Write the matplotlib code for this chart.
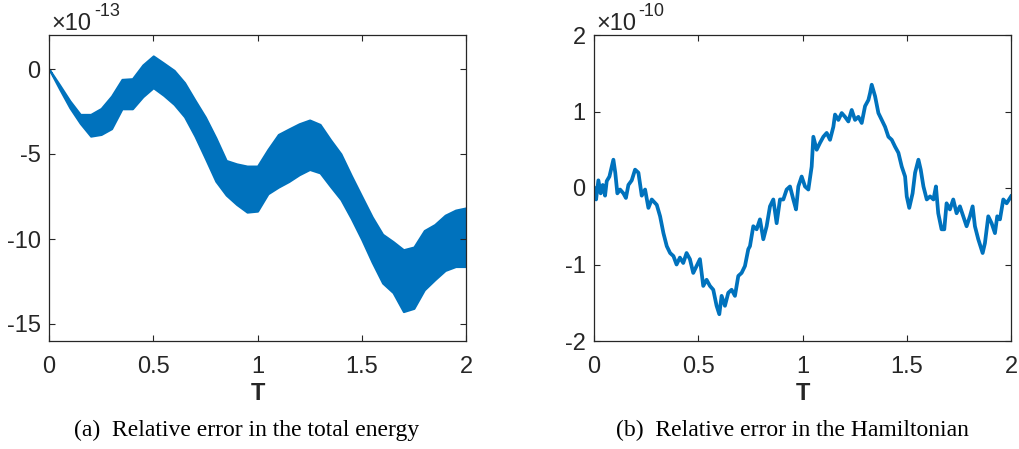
import numpy as np
import matplotlib
matplotlib.use("Agg")
import matplotlib.pyplot as plt

# (a) total energy error, units of 1e-13: the curve is a dense band, kept as its envelope
t_energy = [0.0, 0.05, 0.1, 0.15, 0.2, 0.25, 0.3, 0.35, 0.4, 0.45, 0.5, 0.55, 0.6, 0.65,
            0.7, 0.75, 0.8, 0.85, 0.9, 0.95, 1.0, 1.05, 1.1, 1.15, 1.2, 1.25, 1.3, 1.35,
            1.4, 1.45, 1.5, 1.55, 1.6, 1.65, 1.7, 1.75, 1.8, 1.85, 1.9, 1.95, 2.0]
energy_upper = [0.0, -0.92, -1.87, -2.67, -2.67, -2.32, -1.59, -0.61, -0.57, 0.24, 0.77,
                0.35, -0.08, -0.8, -1.83, -2.83, -4.04, -5.38, -5.58, -5.71, -5.71, -4.73,
                -3.85, -3.53, -3.22, -3.0, -3.26, -4.16, -4.99, -6.27, -7.49, -8.7, -9.72,
                -10.15, -10.63, -10.47, -9.5, -9.15, -8.6, -8.3, -8.17]
energy_lower = [0.0, -1.16, -2.28, -3.2, -3.95, -3.85, -3.51, -2.34, -2.34, -1.63, -1.1,
                -1.55, -2.08, -2.81, -3.95, -5.26, -6.6, -7.42, -7.97, -8.42, -8.36, -7.34,
                -6.95, -6.62, -6.22, -5.91, -6.11, -6.91, -7.68, -8.8, -10.03, -11.37, -12.59,
                -13.15, -14.27, -14.08, -12.99, -12.4, -11.85, -11.62, -11.62]

# (b) Hamiltonian error, units of 1e-10
t_ham = [0.000, 0.010, 0.021, 0.032, 0.042, 0.053, 0.061, 0.074, 0.085, 0.093, 0.102, 0.112,
         0.125, 0.141, 0.153, 0.165, 0.181, 0.197, 0.213, 0.229, 0.245, 0.261, 0.277, 0.301,
         0.317, 0.333, 0.349, 0.365, 0.381, 0.396, 0.412, 0.428, 0.444, 0.460, 0.476, 0.492,
         0.508, 0.524, 0.540, 0.556, 0.572, 0.588, 0.601, 0.612, 0.628, 0.644, 0.660, 0.676,
         0.692, 0.708, 0.724, 0.740, 0.748, 0.764, 0.780, 0.796, 0.812, 0.828, 0.844, 0.860,
         0.876, 0.892, 0.908, 0.924, 0.940, 0.956, 0.969, 0.980, 0.996, 1.012, 1.028, 1.044,
         1.052, 1.068, 1.084, 1.100, 1.116, 1.132, 1.148, 1.156, 1.172, 1.188, 1.204, 1.220,
         1.236, 1.252, 1.268, 1.284, 1.300, 1.316, 1.324, 1.332, 1.348, 1.364, 1.380, 1.396,
         1.412, 1.428, 1.444, 1.460, 1.476, 1.492, 1.500, 1.512, 1.528, 1.540, 1.556, 1.567,
         1.580, 1.596, 1.612, 1.628, 1.640, 1.651, 1.667, 1.680, 1.691, 1.707, 1.723, 1.739,
         1.755, 1.771, 1.787, 1.803, 1.816, 1.827, 1.843, 1.864, 1.875, 1.891, 1.907, 1.923,
         1.934, 1.947, 1.963, 1.979, 2.000]
ham_err = [0.0, -0.15, 0.1, -0.07, 0.04, -0.1, 0.09, 0.15, 0.28, 0.37, 0.2, -0.07,
           -0.02, -0.07, -0.13, 0.04, 0.1, 0.24, 0.2, -0.1, -0.02, -0.26, -0.15, -0.22,
           -0.37, -0.59, -0.76, -0.85, -0.89, -1.0, -0.91, -0.98, -0.85, -0.93, -1.11, -1.02,
           -0.93, -1.28, -1.2, -1.28, -1.33, -1.54, -1.65, -1.41, -1.54, -1.37, -1.33, -1.41,
           -1.15, -1.11, -1.02, -0.8, -0.76, -0.5, -0.54, -0.41, -0.67, -0.5, -0.24, -0.15,
           -0.46, -0.15, -0.15, -0.02, 0.02, -0.15, -0.28, 0.02, 0.15, 0.02, -0.02, 0.28,
           0.67, 0.5, 0.59, 0.67, 0.72, 0.63, 0.8, 0.96, 0.89, 0.98, 0.93, 0.87,
           1.02, 0.89, 0.93, 0.85, 1.07, 1.15, 1.24, 1.35, 1.2, 0.98, 0.89, 0.8,
           0.67, 0.63, 0.54, 0.46, 0.28, 0.15, -0.11, -0.26, -0.07, 0.2, 0.37, 0.24,
           0.02, -0.15, -0.11, -0.15, 0.02, -0.33, -0.54, -0.54, -0.2, -0.28, -0.15, -0.33,
           -0.24, -0.37, -0.5, -0.37, -0.24, -0.5, -0.67, -0.85, -0.72, -0.37, -0.46, -0.59,
           -0.37, -0.41, -0.15, -0.2, -0.11]

x_ticks = [0, 0.5, 1, 1.5, 2]
x_ticklabels = ["0", "0.5", "1", "1.5", "2"]
y_ticks_a = [-15, -10, -5, 0]
y_ticks_b = [-2, -1, 0, 1, 2]

BLUE = "#0072BD"
AXC = "#262626"
W, H = 1019, 449

plt.rcParams["font.family"] = ["Liberation Sans", "DejaVu Sans"]

fig = plt.figure(figsize=(W / 100, H / 100), dpi=100)
ax1 = fig.add_axes([49 / W, 1 - 341 / H, 417 / W, 306 / H])
ax2 = fig.add_axes([594 / W, 1 - 341 / H, 417 / W, 306 / H])


def style_axes(ax, yticks, ylim):
    ax.set_xlim(0, 2)
    ax.set_ylim(*ylim)
    ax.set_xticks(x_ticks)
    ax.set_xticklabels(x_ticklabels)
    ax.set_yticks(yticks)
    ax.set_yticklabels([str(v) for v in yticks])
    ax.tick_params(direction="in", length=4, width=0.8, colors=AXC, labelsize=17,
                   top=True, right=True)
    ax.tick_params(axis="x", pad=11)
    ax.tick_params(axis="y", pad=6)
    for s in ax.spines.values():
        s.set_color(AXC)
        s.set_linewidth(0.9)
    ax.set_xlabel("T", fontsize=17, fontweight="bold", color=AXC, labelpad=3)


ax1.fill_between(t_energy, energy_lower, energy_upper, color=BLUE, linewidth=1.5,
                 edgecolor=BLUE)
style_axes(ax1, y_ticks_a, (-16, 2))

ax2.plot(t_ham, ham_err, color=BLUE, linewidth=2.7)
style_axes(ax2, y_ticks_b, (-2, 2))

# MATLAB style exponent labels
fig.text(51 / W, 1 - 24 / H, "\u00d710", fontsize=17, color=AXC, va="center", ha="left")
fig.text(94 / W, 1 - 12 / H, "-13", fontsize=13, color=AXC, va="center", ha="left")
fig.text(596 / W, 1 - 24 / H, "\u00d710", fontsize=17, color=AXC, va="center", ha="left")
fig.text(638 / W, 1 - 12 / H, "-10", fontsize=13, color=AXC, va="center", ha="left")

# sub captions
fig.text(247 / W, 1 - 430 / H, "(a)  Relative error in the total energy", fontsize=17,
         family="Liberation Serif", ha="center", va="center")
fig.text(792 / W, 1 - 430 / H, "(b)  Relative error in the Hamiltonian", fontsize=17,
         family="Liberation Serif", ha="center", va="center")

fig.savefig("out.png", dpi=100)
